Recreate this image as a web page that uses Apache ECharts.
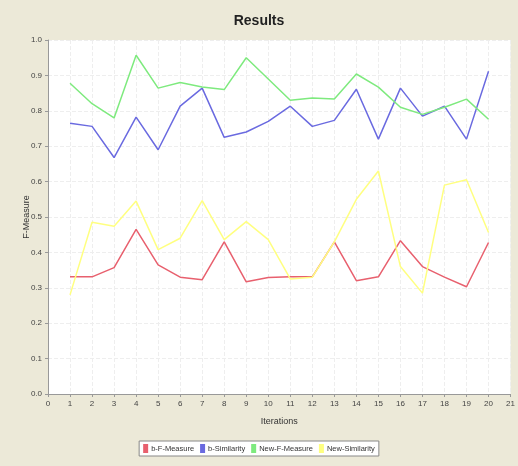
<!DOCTYPE html>
<html><head><meta charset="utf-8">
<script src="https://cdn.jsdelivr.net/npm/echarts@6/dist/echarts.min.js"></script>
<style>html,body{margin:0;padding:0;background:#ECE9D8}#c{width:518px;height:466px}</style>
</head><body><div id="c"></div>
<script>
const iterations = [1,2,3,4,5,6,7,8,9,10,11,12,13,14,15,16,17,18,19,20];
const bFMeasure = [0.331,0.331,0.357,0.465,0.365,0.330,0.323,0.430,0.317,0.329,0.331,0.331,0.430,0.320,0.331,0.433,0.360,0.330,0.303,0.428];
const bSimilarity = [0.765,0.756,0.668,0.782,0.690,0.813,0.864,0.725,0.740,0.770,0.813,0.756,0.773,0.861,0.720,0.864,0.785,0.813,0.720,0.912];
const newFMeasure = [0.878,0.820,0.780,0.957,0.864,0.880,0.867,0.860,0.950,0.890,0.830,0.836,0.833,0.904,0.867,0.810,0.790,0.810,0.833,0.776];
const newSimilarity = [0.280,0.485,0.474,0.545,0.408,0.440,0.546,0.436,0.487,0.436,0.325,0.330,0.430,0.550,0.630,0.360,0.285,0.590,0.605,0.456];
const seriesNames = ['b-F-Measure','b-Similarity','New-F-Measure','New-Similarity'];
const seriesColors = ['#E8606E','#6A6AE0','#7EEA7E','#FFFF80'];
const yTicks = [0,0.1,0.2,0.3,0.4,0.5,0.6,0.7,0.8,0.9,1.0];

const allData = [bFMeasure,bSimilarity,newFMeasure,newSimilarity];
const font = 'Liberation Sans, DejaVu Sans, sans-serif';
const chart = echarts.init(document.getElementById('c'));
chart.setOption({
  backgroundColor:'#ECE9D8',
  animation:false,
  title:{text:'Results',left:'center',top:9,textStyle:{fontFamily:font,fontSize:14,fontWeight:'bold',color:'#222'}},
  grid:{left:48,right:5,top:40,bottom:72,backgroundColor:'#fff',show:true,borderWidth:0},
  legend:{
    bottom:10,left:'center',
    data:seriesNames,
    icon:'rect',itemWidth:5,itemHeight:9,itemGap:6,
    borderColor:'#888',borderWidth:1,padding:[3,4],borderRadius:0,
    backgroundColor:'#fff',
    textStyle:{fontFamily:font,fontSize:7.5,color:'#333',padding:[0,0,0,-2]}
  },
  xAxis:{
    type:'value',min:0,max:21,interval:1,
    name:'Iterations',nameLocation:'middle',nameGap:23,
    nameTextStyle:{fontFamily:font,fontSize:9,color:'#333'},
    axisLine:{show:true,lineStyle:{color:'#999'}},
    axisTick:{show:true,length:3,lineStyle:{color:'#999'}},
    axisLabel:{fontFamily:font,fontSize:8,color:'#444',margin:6},
    splitLine:{show:true,lineStyle:{color:'#eeeeee',type:'dashed'}}
  },
  yAxis:{
    type:'value',min:0,max:1,interval:0.1,
    name:'F-Measure',nameLocation:'middle',nameGap:17,nameMoveOverlap:false,
    nameTextStyle:{fontFamily:font,fontSize:9,color:'#333'},
    axisLine:{show:true,lineStyle:{color:'#999'}},
    axisTick:{show:true,length:3,lineStyle:{color:'#999'}},
    axisLabel:{fontFamily:font,fontSize:8,color:'#444',margin:6,formatter:v=>v.toFixed(1)},
    splitLine:{show:true,lineStyle:{color:'#eeeeee',type:'dashed'}}
  },
  series: seriesNames.map((n,i)=>({
    name:n,type:'line',showSymbol:false,symbol:'none',
    data: iterations.map((x,j)=>[x,allData[i][j]]),
    lineStyle:{color:seriesColors[i],width:1.5},
    itemStyle:{color:seriesColors[i]}
  }))
});
</script></body></html>
